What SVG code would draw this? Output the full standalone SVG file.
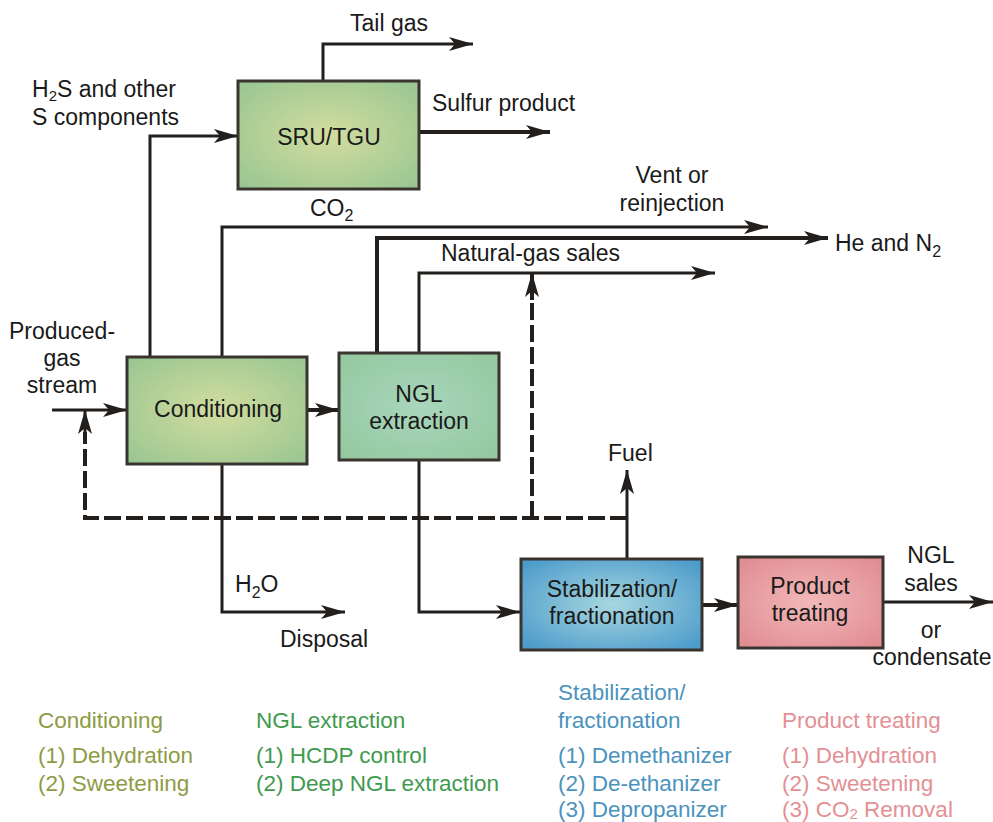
<svg xmlns="http://www.w3.org/2000/svg" width="993" height="822" viewBox="0 0 993 822">
<style>
text{font-family:"Liberation Sans",Arial,sans-serif;font-size:23px;fill:#1a1a1a}
.c{text-anchor:middle}
.box{stroke:#3a3430;stroke-width:3}
.ln{fill:none;stroke:#231f1c;stroke-width:3}
.th{stroke-width:4}
.ds{fill:none;stroke:#231f1c;stroke-width:4;stroke-dasharray:17 5}
.lg{font-size:22.5px}
.lg1{fill:#8e9b45}.lg2{fill:#3f9a4f}.lg3{fill:#4b93bd}.lg4{fill:#e39095}
</style>
<defs>
<marker id="ah" viewBox="0 0 24 14" refX="24" refY="7" markerWidth="24" markerHeight="14" markerUnits="userSpaceOnUse" orient="auto">
<path d="M0,0 L24,7 L0,14 L6,7 Z" fill="#231f1c"/>
</marker>
<radialGradient id="gGreen" cx="50%" cy="50%" r="65%">
<stop offset="0" stop-color="#d2dd9f"/><stop offset="1" stop-color="#9cc792"/>
</radialGradient>
<radialGradient id="gTeal" cx="50%" cy="50%" r="65%">
<stop offset="0" stop-color="#a8d6bc"/><stop offset="1" stop-color="#95c8a0"/>
</radialGradient>
<radialGradient id="gBlue" cx="50%" cy="50%" r="65%">
<stop offset="0" stop-color="#a7d7df"/><stop offset="1" stop-color="#4c9bcb"/>
</radialGradient>
<radialGradient id="gPink" cx="50%" cy="50%" r="65%">
<stop offset="0" stop-color="#f2b8b9"/><stop offset="1" stop-color="#e08d92"/>
</radialGradient>
</defs>

<g id="connectors">
<path class="ln" d="M323,81 V44 H473" marker-end="url(#ah)"/>
<path class="ln th" d="M419,132 H550" marker-end="url(#ah)"/>
<path class="ln" d="M150,357 V136 H238" marker-end="url(#ah)"/>
<path class="ln" d="M222,357 V227 H768" marker-end="url(#ah)"/>
<path class="ln th" d="M377,353 V238 H828" marker-end="url(#ah)"/>
<path class="ln" d="M419,353 V273 H715" marker-end="url(#ah)"/>
<path class="ln" d="M52,410 H127" marker-end="url(#ah)"/>
<path class="ln th" d="M307,410 H339" marker-end="url(#ah)"/>
<path class="ds" d="M627,518 H85 V432"/>
<path class="ln" d="M85,436 V410" marker-end="url(#ah)"/>
<path class="ds" d="M532,518 V295"/>
<path class="ln th" d="M532,300 V273" marker-end="url(#ah)"/>
<path class="ln" d="M627,559 V470" marker-end="url(#ah)"/>
<path class="ln" d="M222,464 V612 H345" marker-end="url(#ah)"/>
<path class="ln" d="M419,460 V612 H520" marker-end="url(#ah)"/>
<path class="ln th" d="M702,605 H738" marker-end="url(#ah)"/>
<path class="ln" d="M883,602 H993" marker-end="url(#ah)"/>
</g>

<g id="sru">
<rect class="box" x="238" y="81" width="181" height="108" fill="url(#gGreen)"/>
<text class="c" x="329" y="145">SRU/TGU</text>
</g>
<g id="conditioning">
<rect class="box" x="127" y="357" width="180" height="107" fill="url(#gGreen)"/>
<text class="c" x="218" y="417">Conditioning</text>
</g>
<g id="ngl">
<rect class="box" x="339" y="353" width="160" height="107" fill="url(#gTeal)"/>
<text class="c" x="419" y="402">NGL</text>
<text class="c" x="419" y="429">extraction</text>
</g>
<g id="stab">
<rect class="box" x="521" y="559" width="181" height="91" fill="url(#gBlue)"/>
<text class="c" x="612" y="597">Stabilization/</text>
<text class="c" x="612" y="624">fractionation</text>
</g>
<g id="product">
<rect class="box" x="738" y="557" width="145" height="91" fill="url(#gPink)"/>
<text class="c" x="810" y="594">Product</text>
<text class="c" x="810" y="621">treating</text>
</g>

<g id="labels">
<text x="350" y="31">Tail gas</text>
<text x="32" y="97">H<tspan font-size="15" dy="4">2</tspan><tspan dy="-4">S and other</tspan></text>
<text x="32" y="125">S components</text>
<text x="432" y="111">Sulfur product</text>
<text x="310" y="216">CO<tspan font-size="16" dy="5">2</tspan></text>
<text class="c" x="672" y="183">Vent or</text>
<text class="c" x="672" y="211">reinjection</text>
<text x="835" y="251">He and N<tspan font-size="16" dy="6">2</tspan></text>
<text x="441" y="261">Natural-gas sales</text>
<text class="c" x="62" y="339">Produced-</text>
<text class="c" x="62" y="366">gas</text>
<text class="c" x="62" y="393">stream</text>
<text x="608" y="461">Fuel</text>
<text x="235" y="592">H<tspan font-size="16" dy="6">2</tspan><tspan dy="-6">O</tspan></text>
<text x="280" y="647">Disposal</text>
<text class="c" x="931" y="563">NGL</text>
<text class="c" x="931" y="591">sales</text>
<text class="c" x="931" y="638">or</text>
<text class="c" x="932" y="665">condensate</text>
</g>

<g id="legend">
<text class="lg lg1" x="38" y="728">Conditioning</text>
<text class="lg lg1" x="38" y="763">(1) Dehydration</text>
<text class="lg lg1" x="38" y="791">(2) Sweetening</text>
<text class="lg lg2" x="256" y="728">NGL extraction</text>
<text class="lg lg2" x="256" y="763">(1) HCDP control</text>
<text class="lg lg2" x="256" y="791">(2) Deep NGL extraction</text>
<text class="lg lg3" x="558" y="700">Stabilization/</text>
<text class="lg lg3" x="558" y="728">fractionation</text>
<text class="lg lg3" x="558" y="763">(1) Demethanizer</text>
<text class="lg lg3" x="558" y="791">(2) De-ethanizer</text>
<text class="lg lg3" x="558" y="817">(3) Depropanizer</text>
<text class="lg lg4" x="782" y="728">Product treating</text>
<text class="lg lg4" x="782" y="763">(1) Dehydration</text>
<text class="lg lg4" x="782" y="791">(2) Sweetening</text>
<text class="lg lg4" x="782" y="817">(3) CO<tspan font-size="15" dy="2">2</tspan><tspan dy="-2"> Removal</tspan></text>
</g>
</svg>
